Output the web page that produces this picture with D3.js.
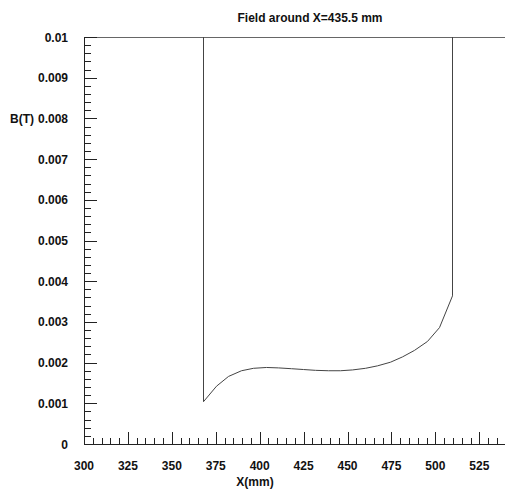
<!DOCTYPE html>
<html>
<head>
<meta charset="utf-8">
<script src="https://cdn.jsdelivr.net/npm/d3@7"></script>
<style>
  html, body { margin: 0; padding: 0; background: #fff; }
  svg { display: block; }
  text { font-family: "Liberation Sans", Arial, Helvetica, sans-serif; font-weight: bold; fill: #111; }
</style>
</head>
<body>
<svg id="chart" width="505" height="493"></svg>
<script>
const title = "Field around X=435.5 mm";
const xLabel = "X(mm)";
const yLabel = "B(T)";
const xDomain = [300, 540];
const yDomain = [0, 0.01];
const xTicks = [300, 325, 350, 375, 400, 425, 450, 475, 500, 525];
const yTicks = [0, 0.001, 0.002, 0.003, 0.004, 0.005, 0.006, 0.007, 0.008, 0.009, 0.01];
const yTickLabels = ["0", "0.001", "0.002", "0.003", "0.004", "0.005", "0.006", "0.007", "0.008", "0.009", "0.01"];
const xPos = [367.7, 367.7, 375.0, 382.1, 389.2, 396.3, 403.4, 410.5, 417.55, 424.6, 431.65, 438.7, 445.75, 452.8, 459.85, 466.9, 473.95, 481.0, 488.05, 495.1, 502.15, 509.2, 509.2];
const field = [0.01, 0.00104, 0.00142, 0.00166, 0.00180, 0.00186, 0.00188, 0.00187, 0.00185, 0.00183, 0.00181, 0.00180, 0.00180, 0.00182, 0.00186, 0.00192, 0.00201, 0.00214, 0.00230, 0.00252, 0.00286, 0.00364, 0.01];

const svg = d3.select("#chart");
const mLeft = 84, mRight = 505, mTop = 37, mBottom = 444;
const x = d3.scaleLinear().domain(xDomain).range([84, 84 + (540 - 300) * (479.3 - 84) / 225]);
const y = d3.scaleLinear().domain(yDomain).range([mBottom, mTop]);

// top frame line
svg.append("line")
  .attr("x1", x(300)).attr("x2", mRight)
  .attr("y1", y(0.01) + 0.5).attr("y2", y(0.01) + 0.5)
  .attr("stroke", "#666").attr("stroke-width", 1);

// data line
const pts = xPos.map((v, i) => [v, field[i]]);
const line = d3.line().x(d => Math.round(x(d[0])) + 0.5).y(d => y(d[1]));
svg.append("path")
  .attr("d", line(pts))
  .attr("fill", "none")
  .attr("stroke", "#444")
  .attr("stroke-width", 1);

// x axis
const xMinor = d3.range(300, 541, 5);
const gx = svg.append("g");
gx.append("line").attr("x1", x(300)).attr("x2", mRight).attr("y1", mBottom + 0.5).attr("y2", mBottom + 0.5).attr("stroke", "#222");
gx.selectAll("line.minor").data(xMinor).enter().append("line")
  .attr("x1", d => Math.round(x(d)) + 0.5).attr("x2", d => Math.round(x(d)) + 0.5)
  .attr("y1", mBottom).attr("y2", d => xTicks.includes(d) ? mBottom - 12 : mBottom - 6)
  .attr("stroke", "#222");
gx.selectAll("text").data(xTicks).enter().append("text")
  .attr("x", d => x(d)).attr("y", 469.5)
  .attr("text-anchor", "middle").attr("font-size", "12px")
  .text(d => d);

// y axis
const yMinor = d3.range(0, 51).map(i => i * 0.0002);
const gy = svg.append("g");
gy.append("line").attr("x1", mLeft + 0.5).attr("x2", mLeft + 0.5).attr("y1", mTop).attr("y2", mBottom + 1).attr("stroke", "#222");
gy.selectAll("line.minor").data(yMinor).enter().append("line")
  .attr("x1", mLeft).attr("x2", (d, i) => i % 5 === 0 ? mLeft + 13 : mLeft + 7)
  .attr("y1", d => Math.round(y(d)) + 0.5).attr("y2", d => Math.round(y(d)) + 0.5)
  .attr("stroke", "#222");
gy.selectAll("text").data(yTicks).enter().append("text")
  .attr("x", 68).attr("y", d => y(d) + 4.5)
  .attr("text-anchor", "end").attr("font-size", "12px")
  .text((d, i) => yTickLabels[i]);

// labels
svg.append("text").attr("x", 310).attr("y", 22).attr("text-anchor", "middle").attr("font-size", "12px").text(title);
svg.append("text").attr("x", 255).attr("y", 486).attr("text-anchor", "middle").attr("font-size", "12px").text(xLabel);
svg.append("text").attr("x", 34).attr("y", y(0.008) + 4.5).attr("text-anchor", "end").attr("font-size", "12px").text(yLabel);
</script>
</body>
</html>
